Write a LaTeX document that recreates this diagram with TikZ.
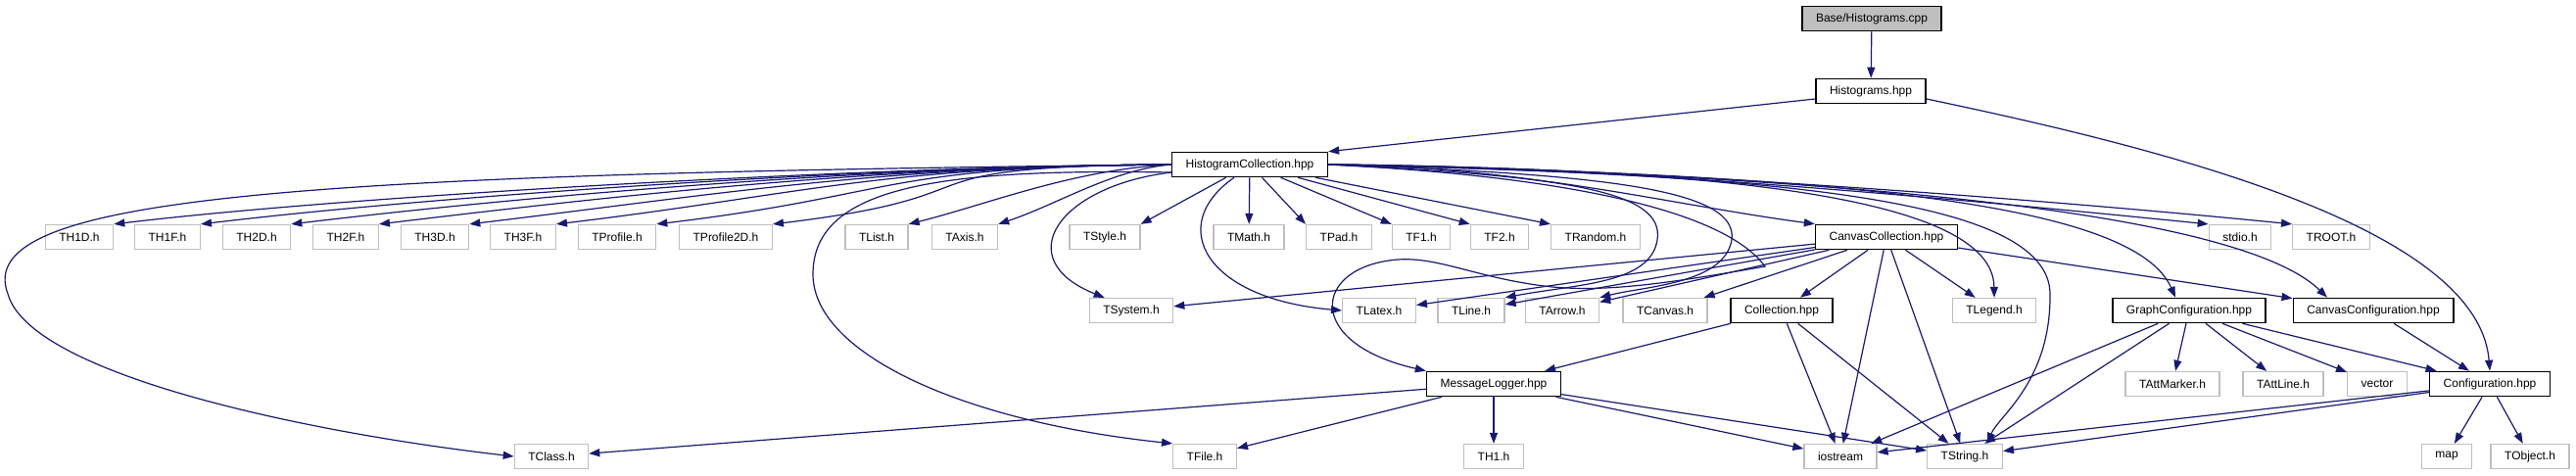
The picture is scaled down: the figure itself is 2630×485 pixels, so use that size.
\documentclass[tikz,border=0pt]{standalone}
\usepackage{fontspec}
\setmainfont{Liberation Sans}
\usepackage{xcolor}
\usepackage{tikz}
\usetikzlibrary{arrows.meta}
\definecolor{edgeblue}{HTML}{191970}
\definecolor{boxgray}{HTML}{BFBFBF}

\begin{document}
\begin{tikzpicture}[x=1pt, y=-1pt,
    hdr/.style={draw=boxgray, line width=1.3pt, rectangle, font=\fontsize{12}{14}\selectfont, inner xsep=14pt, minimum height=25pt},
    src/.style={hdr, draw=black, line width=1.6pt},
    dep/.style={-{Triangle[length=11pt,width=8pt]}, draw=edgeblue, line width=1.2pt}]
    \useasboundingbox (0,0) rectangle (2630,485);

    \node (root) [src, fill=boxgray] at (1911,19) {Base/Histograms.cpp};
    \node (hist) [src] at (1910,93) {Histograms.hpp};
    \node (hc) [src] at (1276,168) {HistogramCollection.hpp};

    \node (th1d) [hdr] at (81,242) {TH1D.h};
    \node (th1f) [hdr] at (171,242) {TH1F.h};
    \node (th2d) [hdr] at (262,242) {TH2D.h};
    \node (th2f) [hdr] at (353,242) {TH2F.h};
    \node (th3d) [hdr] at (444,242) {TH3D.h};
    \node (th3f) [hdr] at (534,242) {TH3F.h};
    \node (tprof) [hdr] at (630,242) {TProfile.h};
    \node (tprofb) [hdr] at (741,242) {TProfile2D.h};
    \node (tlist) [hdr] at (895,242) {TList.h};
    \node (taxis) [hdr] at (985,242) {TAxis.h};
    \node (tstyle) [hdr] at (1128,242) {TStyle.h};
    \node (tmath) [hdr] at (1275,242) {TMath.h};
    \node (tpad) [hdr] at (1367,242) {TPad.h};
    \node (tf1) [hdr] at (1451,242) {TF1.h};
    \node (tf2) [hdr] at (1531,242) {TF2.h};
    \node (trand) [hdr] at (1629,242) {TRandom.h};
    \node (cc) [src] at (1926,242) {CanvasCollection.hpp};
    \node (stdio) [hdr] at (2287,242) {stdio.h};
    \node (troot) [hdr] at (2380,242) {TROOT.h};

    \node (tsys) [hdr] at (1155,317) {TSystem.h};
    \node (tlatex) [hdr] at (1408,317) {TLatex.h};
    \node (tline) [hdr] at (1502,317) {TLine.h};
    \node (tarrow) [hdr] at (1595,317) {TArrow.h};
    \node (tcanvas) [hdr] at (1700,317) {TCanvas.h};
    \node (coll) [src] at (1819,317) {Collection.hpp};
    \node (tlegend) [hdr] at (2036,317) {TLegend.h};
    \node (gc) [src] at (2235,317) {GraphConfiguration.hpp};
    \node (ccf) [src] at (2423,317) {CanvasConfiguration.hpp};

    \node (ml) [src] at (1525,392) {MessageLogger.hpp};
    \node (tmarker) [hdr] at (2218,392) {TAttMarker.h};
    \node (tattline) [hdr] at (2331,392) {TAttLine.h};
    \node (vec) [hdr] at (2427,392) {vector};
    \node (conf) [src] at (2542,392) {Configuration.hpp};

    \node (tclass) [hdr] at (563,466) {TClass.h};
    \node (tfile) [hdr] at (1230,466) {TFile.h};
    \node (th1) [hdr] at (1525,466) {TH1.h};
    \node (ios) [hdr] at (1879,466) {iostream};
    \node (tstr) [hdr] at (2006,466) {TString.h};
    \node (map) [hdr] at (2498,466) {map};
    \node (tobj) [hdr] at (2583,466) {TObject.h};

    \draw[dep] (root) -- (hist);
    \draw[dep] ([yshift=-8pt]hist.west) -- (hc.north east);
    \draw[dep] ([yshift=-8pt]hist.east) .. controls (2200,150) and (2530,230) .. (conf.north);

    \foreach \n in {th1d,th1f,th2d,th2f,th3d,th3f,tprof,tprofb}
        \draw[dep] (hc.west) .. controls +(-300,2) and +(250,-30) .. (\n.north east);
    \draw[dep] (hc.west) .. controls +(-100,5) and +(80,-20) .. (tlist.north east);
    \draw[dep] (hc.west) .. controls +(-60,5) and +(60,-20) .. (taxis.north east);
    \draw[dep] (hc) -- (tstyle.north east);
    \draw[dep] (hc) -- (tmath);
    \foreach \n in {tpad,tf1,tf2,trand}
        \draw[dep] (hc) -- (\n.north west);
    \draw[dep] (hc.east) .. controls +(200,2) and +(-150,-20) .. (cc.north west);
    \draw[dep] (hc.east) .. controls +(300,2) and +(-250,-25) .. (stdio.north west);
    \draw[dep] (hc.east) .. controls +(300,2) and +(-250,-25) .. (troot.north west);

    \draw[dep] (hc.west) .. controls (300,178) and (-30,200) .. (8,300) .. controls (30,380) and (300,440) .. (tclass.west);
    \draw[dep] ([yshift=-8pt]hc.west) .. controls (960,172) and (830,190) .. (830,280) .. controls (830,360) and (980,430) .. (tfile.north west);
    \draw[dep] ([yshift=-8pt]hc.west) .. controls (1080,190) and (1030,265) .. ([xshift=16pt]tsys.north west);
    \draw[dep] ([xshift=-16pt]hc.south) .. controls (1190,230) and (1230,305) .. (tlatex.west);
    \draw[dep] (hc.east) .. controls (1600,180) and (1700,195) .. (1692,245) .. controls (1685,290) and (1610,290) .. (tline.north east);
    \draw[dep] (hc.east) .. controls (1650,178) and (1775,195) .. (1768,245) .. controls (1760,290) and (1680,292) .. (tarrow.north east);
    \draw[dep] (hc.east) .. controls (1600,180) and (1760,215) .. (1802,272) .. controls (1700,290) and (1640,298) .. (1585,293) .. controls (1510,285) and (1470,262) .. (1427,265) .. controls (1340,272) and (1330,350) .. (ml.north west);
    \draw[dep] (hc.east) .. controls (1750,172) and (2035,200) .. (tlegend.north);
    \draw[dep] (hc.east) .. controls (1800,178) and (2092,200) .. (2093,300) .. controls (2094,390) and (2040,425) .. ([xshift=-16pt]tstr.north east);
    \draw[dep] (hc.east) .. controls (1900,178) and (2180,210) .. ([xshift=-14pt]gc.north);
    \draw[dep] (hc.east) .. controls (2000,182) and (2300,230) .. ([xshift=-47pt]ccf.north);

    \foreach \n in {tsys,tlatex,tline,tarrow,tcanvas,coll,tlegend,ios,tstr,ccf}
        \draw[dep] (cc) -- (\n);
    \foreach \n in {ml,ios,tstr}
        \draw[dep] (coll) -- (\n);
    \foreach \n in {tclass,tfile,th1,ios,tstr}
        \draw[dep] (ml) -- (\n);
    \foreach \n in {ios,tstr,tmarker,tattline,vec,conf}
        \draw[dep] (gc) -- (\n);
    \draw[dep] (ccf) -- (conf);
    \foreach \n in {ios,tstr,map,tobj}
        \draw[dep] (conf) -- (\n);
\end{tikzpicture}
\end{document}
